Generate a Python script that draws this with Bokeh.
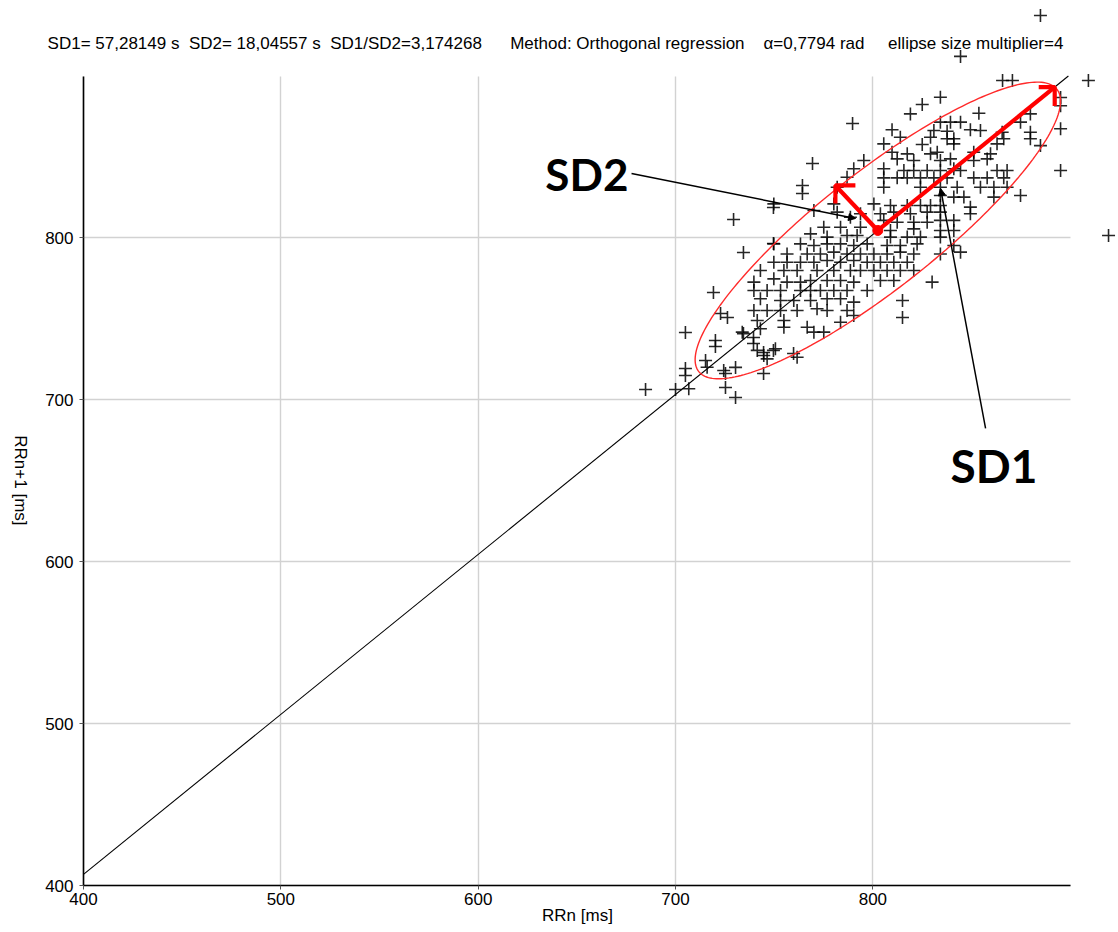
import math
from bokeh.plotting import figure
from bokeh.models import FixedTicker, Label, Arrow, NormalHead, ColumnDataSource
from bokeh.embed import file_html
from bokeh.resources import INLINE

# ---- data (RR intervals, ms) ----
rr_n = [
    # outliers and sparse points
    884.9, 844.4, 909.2, 865.7, 870.7, 895.1, 895.1, 895.1, 895.1, 919.4,
    684.8, 700.0, 705.0, 705.0, 705.0, 719.2, 722.8, 726.3, 720.2, 720.2,
    715.2, 725.3, 730.4, 725.3, 730.4, 744.6, 739.5, 739.5, 744.6, 749.6,
    734.4, 759.8, 734.4, 749.6, 729.4, 749.6, 789.7, 769.4, 764.3, 764.3,
    815.0, 815.0,
    # upper part of the cloud
    834.2, 825.0, 819.0, 853.7, 879.8, 834.2, 839.3, 844.4, 874.8,
    809.7, 830.9, 837.6, 849.4, 854.5, 865.5, 879.8,
    813.9, 829.2, 837.6, 841.0, 866.3, 879.8,
    805.5, 825.0, 841.0, 862.9, 884.9,
    809.7, 817.4, 829.2, 832.6, 851.1, 859.6,
    795.4, 812.3, 820.7, 834.2, 839.3, 851.1, 857.9,
    790.3, 805.5, 815.7, 820.7, 827.5, 834.2, 841.0, 844.4, 862.9, 868.0,
    786.9, 805.5, 812.3, 817.4, 824.1, 830.9, 837.6, 851.1, 857.9, 866.3,
    781.9, 805.5, 824.1, 834.2, 842.7, 854.5, 861.3, 868.0,
    834.2, 841.0, 846.1, 861.3, 874.8,
    # centre band
    749.8, 780.2, 800.5, 808.9, 817.4, 824.1, 829.2, 834.2, 849.4,
    770.1, 781.9, 793.7, 803.8, 810.6, 819.0, 827.5, 834.2, 849.4,
    788.6, 805.5, 812.3, 820.7, 827.5, 834.2, 841.0,
    775.1, 783.6, 793.7, 808.9, 820.7, 834.2, 841.0,
    768.4, 776.8, 786.9, 792.0, 808.9, 817.4, 824.1, 834.2,
    749.8, 763.3, 770.1, 776.8, 783.6, 790.3, 797.1, 807.2, 813.9, 822.4, 841.0,
    756.5, 766.7, 773.4, 780.2, 786.9, 793.7, 800.5, 807.2, 813.9, 820.7, 834.2, 844.4,
    # lower part of the cloud
    749.8, 756.5, 763.3, 770.1, 776.8, 783.6, 790.3, 797.1, 803.8, 810.6, 817.4,
    743.0, 754.9, 761.6, 771.7, 780.2, 788.6, 793.7, 800.5, 807.2, 813.9, 820.7,
    739.7, 749.8, 756.5, 763.3, 768.4, 776.8, 783.6, 790.3, 803.8, 810.6, 830.0,
    739.7, 746.4, 753.2, 763.3, 768.4, 773.4, 780.2, 786.9, 797.1,
    743.0, 753.2, 759.9, 768.4, 776.8, 783.6, 790.3,
    739.7, 746.4, 753.2, 761.6, 771.7, 776.8, 786.9,
    733.8, 741.4, 744.7, 750.6, 746.4, 761.6, 716.0, 724.4, 706.7, 743.0,
    741.4, 754.9, 766.7, 770.1, 775.1, 783.6, 754.9, 790.3,
]
rr_n1 = [
    937.4, 912.1, 897.2, 897.2, 897.2, 886.7, 881.6, 867.4, 841.6, 801.5,
    706.4, 706.4, 719.3, 715.0, 741.6, 766.3, 753.3, 750.8, 736.6, 732.9,
    724.3, 707.6, 701.4, 716.2, 720.0, 716.2, 734.8, 738.5, 729.2, 730.5,
    740.9, 728.6, 791.0, 796.5, 811.4, 818.8, 870.7, 846.0, 832.4, 827.4,
    761.3, 750.8,
    886.9, 882.4, 876.6, 877.0, 876.6, 871.5, 871.5, 871.5, 871.5,
    866.8, 866.3, 865.9, 866.8, 866.3, 865.3, 865.3,
    862.2, 862.2, 861.2, 861.2, 861.2, 861.2,
    858.1, 857.7, 858.1, 858.1, 857.0,
    852.9, 851.9, 851.9, 852.9, 852.9, 851.9,
    847.8, 848.8, 847.8, 847.8, 848.8, 847.8, 848.8,
    842.7, 842.7, 841.6, 841.6, 841.6, 841.6, 842.7, 841.6, 841.6, 841.6,
    837.5, 837.1, 837.1, 837.1, 837.1, 837.1, 837.1, 837.1, 837.1, 837.1,
    831.3, 831.3, 831.3, 831.3, 831.3, 831.3, 831.3, 831.3,
    826.2, 825.2, 825.2, 825.2, 826.2,
    821.0, 821.0, 821.0, 820.0, 820.0, 820.0, 820.0, 820.0, 819.0,
    816.9, 815.9, 814.9, 814.9, 815.9, 814.9, 815.9, 815.9, 814.9,
    812.8, 810.8, 809.7, 809.7, 809.7, 810.8, 810.8,
    806.6, 806.6, 806.6, 804.6, 805.6, 804.6, 804.6,
    802.5, 800.5, 801.5, 801.5, 800.5, 800.5, 800.5, 800.5,
    796.3, 796.3, 795.3, 796.3, 796.3, 795.3, 796.3, 795.3, 795.3, 796.3, 795.3,
    790.1, 790.1, 790.1, 791.2, 790.1, 790.1, 790.1, 790.1, 791.2, 790.1, 790.1, 791.2,
    785.0, 785.0, 785.0, 785.0, 786.0, 785.0, 786.0, 785.0, 785.0, 785.0, 785.0,
    779.9, 779.9, 779.9, 779.9, 779.9, 779.9, 779.9, 779.9, 779.9, 779.9, 779.9,
    772.7, 774.7, 772.7, 772.7, 773.7, 773.7, 773.7, 772.7, 773.7, 773.7, 772.7,
    767.5, 767.5, 767.5, 767.5, 767.5, 767.5, 767.5, 767.5, 767.5,
    762.4, 761.3, 761.3, 761.3, 762.4, 762.4, 760.3,
    755.2, 755.2, 755.2, 755.2, 756.2, 755.2, 755.2,
    741.8, 730.5, 727.4, 731.5, 725.3, 726.3, 720.1, 718.1, 706.8, 743.9,
    749.0, 749.0, 744.8, 741.8, 741.8, 747.9, 744.8, 752.1,
]

tick_values = [400, 500, 600, 700, 800]
axis_bounds = (400, 900)

# ellipse / regression parameters
center = (802.5, 804.6)
alpha = 0.7794          # rad
semi_major = 126.0
semi_minor = 33.0
sd2_tip = (781.0, 832.4)

NB = "\u00a0"
title_text = ("SD1= 57,28149 s" + NB * 2 + "SD2= 18,04557 s" + NB * 2 +
              "SD1/SD2=3,174268" + NB * 6 + "Method: Orthogonal regression" + NB * 4 +
              "\u03b1=0,7794 rad" + NB * 5 + "ellipse size multiplier=4")

FONT = "Liberation Sans"
W, H = 1116, 930
sx = 1.9735   # px per ms along x
sy = 1.619    # px per ms along y
left_px, bottom_px = 83, 45

p = figure(width=W, height=H,
           x_range=(400 - left_px / sx, 400 + (W - left_px) / sx),
           y_range=(400 - bottom_px / sy, 400 + (H - bottom_px) / sy),
           min_border=0, min_border_left=0, min_border_right=0,
           min_border_top=0, min_border_bottom=0,
           toolbar_location=None, output_backend="svg", title=None)
p.outline_line_color = None
p.background_fill_color = "white"
p.border_fill_color = "white"

for ax in (p.xaxis[0], p.yaxis[0]):
    ax.fixed_location = 400
    ax.ticker = FixedTicker(ticks=tick_values)
    ax.bounds = axis_bounds
    ax.axis_line_color = "black"
    ax.axis_line_width = 1.6
    ax.major_tick_in = 0
    ax.major_tick_out = 4
    ax.major_tick_line_color = "#555555"
    ax.minor_tick_line_color = None
    ax.major_label_text_font = FONT
    ax.major_label_text_font_size = "17px"
    ax.major_label_text_color = "black"

p.xaxis.major_label_standoff = 3
p.yaxis.major_label_standoff = 6

grid_color = "#d2d2d2"
use_cross = "cross_bounds" in p.xgrid[0].properties()
for g in (p.xgrid[0], p.ygrid[0]):
    g.bounds = axis_bounds
    g.grid_line_color = grid_color
    g.grid_line_width = 1.4
    if use_cross:
        g.cross_bounds = axis_bounds
    else:
        g.visible = False
if not use_cross:
    p.segment(x0=tick_values, y0=[axis_bounds[0]] * len(tick_values),
              x1=tick_values, y1=[axis_bounds[1]] * len(tick_values),
              line_color=grid_color, line_width=1.4, level="underlay")
    p.segment(x0=[axis_bounds[0]] * len(tick_values), y0=tick_values,
              x1=[axis_bounds[1]] * len(tick_values), y1=tick_values,
              line_color=grid_color, line_width=1.4, level="underlay")

# axis titles
p.add_layout(Label(x=650.3, y=381.5, text="RRn [ms]", text_font=FONT, text_font_size="17px",
                   text_align="center", text_baseline="middle", text_color="black"))
p.add_layout(Label(x=368.1, y=650.2, text="RRn+1 [ms]", text_font=FONT, text_font_size="17px",
                   text_align="center", text_baseline="middle", angle=-math.pi / 2,
                   text_color="black"))

# regression line through the ellipse centre
slope = math.tan(alpha)
x0 = axis_bounds[0]
y0 = center[1] + (x0 - center[0]) * slope
y1 = axis_bounds[1]
x1 = center[0] + (y1 - center[1]) / slope
p.line([x0, x1], [y0, y1], line_color="black", line_width=1.1)

# points
src = ColumnDataSource(dict(x=rr_n, y=rr_n1))
p.scatter("x", "y", source=src, marker="cross", size=13,
          line_color="black", line_alpha=0.85, line_width=1.6)

# ellipse
ca, sa = math.cos(alpha), math.sin(alpha)
ex, ey = [], []
n = 240
for i in range(n + 1):
    t = 2 * math.pi * i / n
    u = semi_major * math.cos(t)
    v = semi_minor * math.sin(t)
    ex.append(center[0] + u * ca - v * sa)
    ey.append(center[1] + u * sa + v * ca)
p.line(ex, ey, line_color="#ff2a2a", line_width=1.4)

# SD1 arrow
sd1_tip = (center[0] + semi_major * ca, center[1] + semi_major * sa)
p.line([center[0], sd1_tip[0]], [center[1], sd1_tip[1]], line_color="red", line_width=4.2)
p.multi_line([[sd1_tip[0] - 16 / sx, sd1_tip[0], sd1_tip[0]]],
             [[sd1_tip[1], sd1_tip[1], sd1_tip[1] - 19 / sy]],
             line_color="red", line_width=4.2)
# SD2 arrow
p.line([center[0], sd2_tip[0]], [center[1], sd2_tip[1]], line_color="red", line_width=4.2)
p.multi_line([[sd2_tip[0] + 20 / sx, sd2_tip[0], sd2_tip[0]]],
             [[sd2_tip[1], sd2_tip[1], sd2_tip[1] - 18 / sy]],
             line_color="red", line_width=4.2)
p.scatter([center[0]], [center[1]], marker="circle", size=10, fill_color="red", line_color="red")

# leader lines
p.add_layout(Arrow(x_start=677.7, y_start=839.8, x_end=791.2, y_end=812.0,
                   line_color="black", line_width=1.5,
                   end=NormalHead(size=7, fill_color="black", line_color="black")))
p.add_layout(Arrow(x_start=857.1, y_start=682.3, x_end=834.3, y_end=830.5,
                   line_color="black", line_width=1.5,
                   end=NormalHead(size=7, fill_color="black", line_color="black")))

p.add_layout(Label(x=634.0, y=839.5, text="SD2", text_font="Lato", text_baseline="alphabetic",
                   text_font_style="bold", text_font_size="44px", text_color="black"))
p.add_layout(Label(x=839.3, y=659.5, text="SD1", text_font="Lato", text_baseline="alphabetic",
                   text_font_style="bold", text_font_size="46px", text_color="black"))

p.add_layout(Label(x=381.8, y=920.0, text=title_text, text_font=FONT, text_baseline="alphabetic",
                   text_font_size="17px", text_color="black"))

open("out.html", "w").write(file_html(p, INLINE))
